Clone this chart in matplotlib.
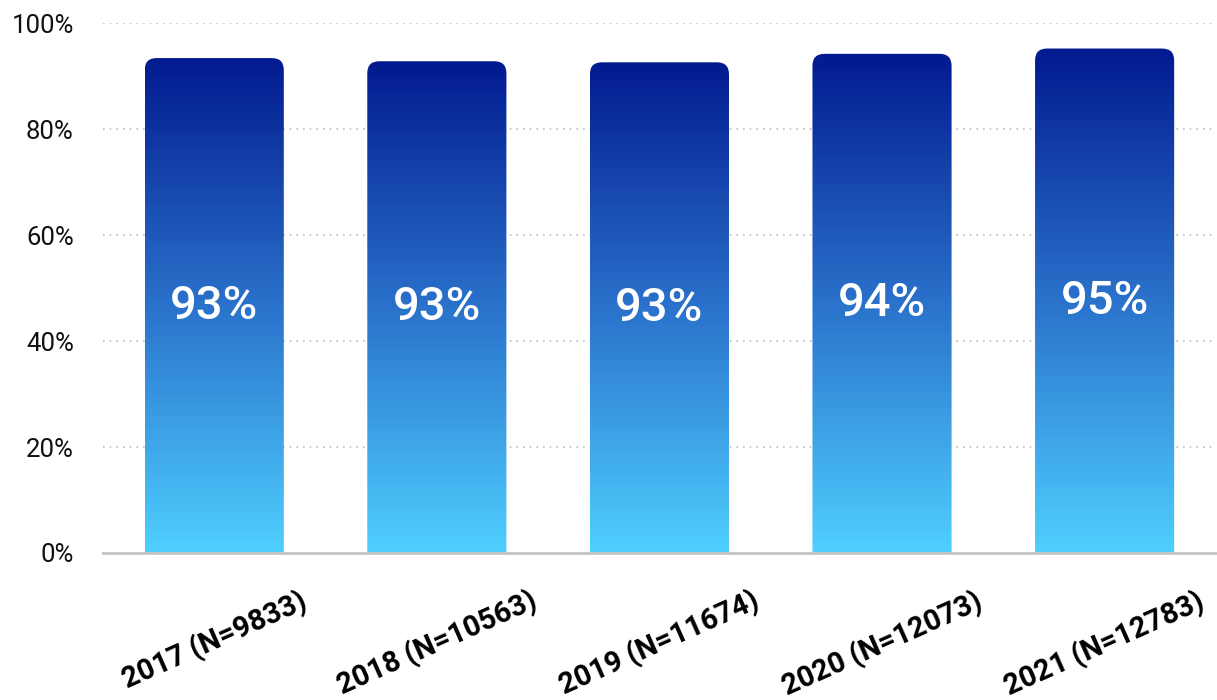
import numpy as np
import matplotlib
matplotlib.use('Agg')
import matplotlib.pyplot as plt
from matplotlib.path import Path
from matplotlib.patches import PathPatch
from matplotlib.colors import LinearSegmentedColormap

years = ['2017', '2018', '2019', '2020', '2021']
sampleSizes = [9833, 10563, 11674, 12073, 12783]
shares = [93.4, 92.8, 92.6, 94.2, 95.2]

plt.rcParams['font.family'] = ['Roboto', 'DejaVu Sans']

fig = plt.figure(figsize=(12.17, 7.0), dpi=100)
ax = fig.add_axes([0.0846, 0.21, 0.9145, 0.757])
ax.set_xlim(-0.5, len(years) - 0.5)
ax.set_ylim(0, 100)

barWidth = 0.625
cornerPx = 12
cmap = LinearSegmentedColormap.from_list('blues', ['#4fcfff', '#2a72cb', '#021a8f'])
gradient = np.linspace(0, 1, 256).reshape(-1, 1)

# corner radius in data units for each axis
axBox = ax.get_window_extent()
rx = cornerPx * (len(years)) / axBox.width
ry = cornerPx * 100 / axBox.height


def roundedTopBar(x0, x1, top):
  verts = [
    (x0, 0), (x0, top - ry), (x0, top), (x0 + rx, top),
    (x1 - rx, top), (x1, top), (x1, top - ry),
    (x1, 0), (x0, 0)
  ]
  codes = [
    Path.MOVETO, Path.LINETO, Path.CURVE3, Path.CURVE3,
    Path.LINETO, Path.CURVE3, Path.CURVE3,
    Path.LINETO, Path.CLOSEPOLY
  ]
  return Path(verts, codes)


for i, value in enumerate(shares):
  x0 = i - barWidth / 2
  x1 = i + barWidth / 2
  patch = PathPatch(roundedTopBar(x0, x1, value), facecolor='none', edgecolor='none')
  ax.add_patch(patch)
  img = ax.imshow(gradient, cmap=cmap, origin='lower', aspect='auto',
                  extent=(x0, x1, 0, value), zorder=2, interpolation='bilinear')
  img.set_clip_path(patch)
  ax.text(i, value / 2, f'{value:.0f}%', ha='center', va='center',
          color='white', fontsize=34, fontweight='medium', zorder=3)

ax.set_xlim(-0.5, len(years) - 0.5)
ax.set_ylim(0, 100)

ax.set_yticks(range(0, 101, 20))
ax.set_yticklabels([f'{t}%' for t in range(0, 101, 20)], fontsize=18.5, color='#111111')
for t in range(20, 101, 20):
  ax.axhline(t, color='#bdbdbd', linestyle=(0, (1, 3)), linewidth=1.2, zorder=1)

ax.set_xticks(range(len(years)))
ax.set_xticklabels([f'{y} (N={n})' for y, n in zip(years, sampleSizes)],
                   rotation=24, ha='center', fontsize=21, fontweight='bold')
ax.tick_params(axis='both', length=0)
ax.tick_params(axis='y', pad=21)
ax.tick_params(axis='x', pad=24)

for side in ['top', 'right', 'left']:
  ax.spines[side].set_visible(False)
ax.spines['bottom'].set_color('#c4c4c4')
ax.spines['bottom'].set_linewidth(2)
ax.spines['bottom'].set_zorder(4)

plt.savefig('out.png', dpi=100)
plt.close()
